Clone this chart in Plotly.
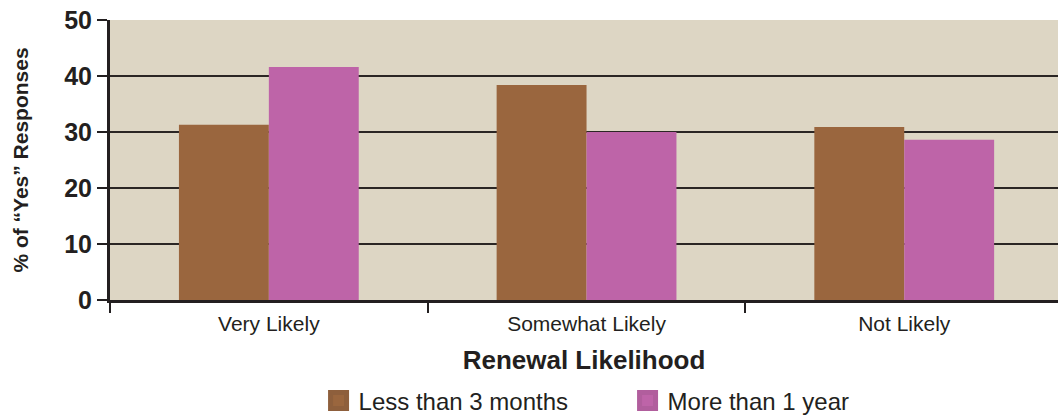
import plotly.graph_objects as go

categories = ["Very Likely", "Somewhat Likely", "Not Likely"]
less_than_3_months = [31.3, 38.4, 30.9]
more_than_1_year = [41.6, 30.0, 28.6]
series_names = ["Less than 3 months", "More than 1 year"]
y_ticks = [0, 10, 20, 30, 40, 50]

BROWN = "#9A663E"
PINK = "#BE64A8"
INK = "#231F20"
FONT = "Liberation Sans, Arial, Helvetica, sans-serif"

fig = go.Figure()
fig.add_trace(go.Bar(x=categories, y=less_than_3_months, name=series_names[0],
                     marker=dict(color=BROWN, line=dict(width=0)), showlegend=False))
fig.add_trace(go.Bar(x=categories, y=more_than_1_year, name=series_names[1],
                     marker=dict(color=PINK, line=dict(width=0)), showlegend=False))
# legend entries
fig.add_trace(go.Scatter(x=[None], y=[None], mode="markers", name=series_names[0],
                         marker=dict(symbol="square", size=16, color=BROWN,
                                     line=dict(color="#8E5F3C", width=5))))
fig.add_trace(go.Scatter(x=[None], y=[None], mode="markers", name=series_names[1],
                         marker=dict(symbol="square", size=16, color=PINK,
                                     line=dict(color="#B15E9D", width=5))))

fig.update_layout(
    width=1058, height=418,
    margin=dict(l=110, r=0, t=20, b=118, autoexpand=False),
    paper_bgcolor="white",
    plot_bgcolor="#DDD6C4",
    barmode="group",
    bargap=0.434,
    bargroupgap=0,
    font=dict(family=FONT, color=INK),
    legend=dict(orientation="h", x=0.22, xanchor="left", y=-0.36, yanchor="middle",
                font=dict(size=24, color=INK), itemsizing="trace",
                entrywidth=264, entrywidthmode="pixels",
                bgcolor="rgba(0,0,0,0)"),
    xaxis=dict(
        type="category",
        range=[-0.5, 2.484],
        tickson="boundaries",
        ticks="outside", ticklen=10, tickwidth=2, tickcolor=INK,
        showline=True, linecolor=INK, linewidth=3,
        showgrid=False,
        tickfont=dict(size=21, color=INK),
        ticklabelstandoff=3,
        automargin=False,
        title=dict(text="<b>Renewal Likelihood</b>", font=dict(size=26, color=INK), standoff=17),
    ),
    yaxis=dict(
        range=[0, 50],
        tickvals=y_ticks,
        ticktext=[f"<b>{v}</b>" for v in y_ticks],
        ticks="outside", ticklen=10, tickwidth=2, tickcolor=INK,
        showline=True, linecolor=INK, linewidth=3,
        showgrid=True, gridcolor="#2B2624", gridwidth=1.5,
        zeroline=False,
        automargin=False,
        tickfont=dict(size=25, color=INK),
        title=dict(text="<b>% of “Yes” Responses</b>", font=dict(size=21, color=INK), standoff=30),
    ),
)

fig.write_html("out.html")
